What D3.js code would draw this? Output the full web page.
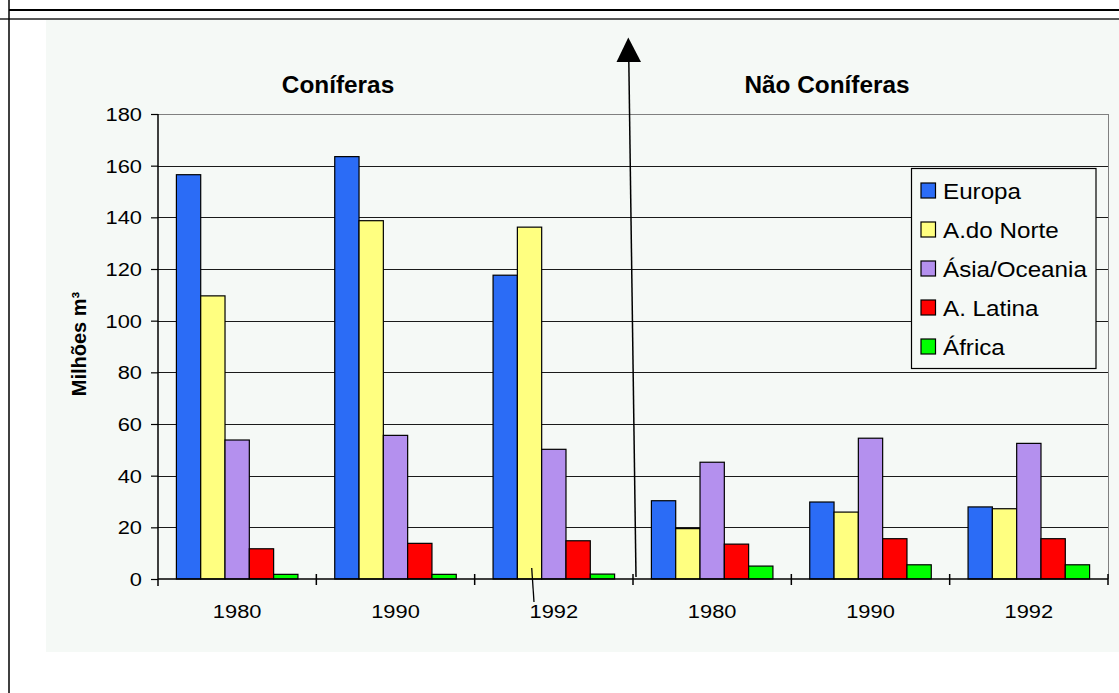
<!DOCTYPE html>
<html>
<head>
<meta charset="utf-8">
<script src="https://cdn.jsdelivr.net/npm/d3@7"></script>
<style>
  html, body { margin: 0; padding: 0; background: #ffffff; }
  svg { display: block; }
  text { font-family: "Liberation Sans", Arial, sans-serif; fill: #000; }
</style>
</head>
<body>
<svg id="chart" width="1119" height="693"></svg>
<script>
// ---- data ----
const categories = ["1980", "1990", "1992", "1980", "1990", "1992"];
const groupTitles = ["Coníferas", "Não Coníferas"];
const seriesNames = ["Europa", "A.do Norte", "Ásia/Oceania", "A. Latina", "África"];
const europa  = [156.5, 163.5, 117.6, 30.3, 29.8, 27.9];
const aNorte  = [109.6, 138.7, 136.2, 19.5, 25.9, 27.2];
const asia    = [53.8, 55.6, 50.2, 45.2, 54.5, 52.5];
const aLatina = [11.7, 13.8, 14.8, 13.5, 15.6, 15.6];
const africa  = [1.8, 1.8, 1.9, 5.0, 5.5, 5.5];
const yTicks  = [0, 20, 40, 60, 80, 100, 120, 140, 160, 180];
const yTitle  = "Milhões m³";

const seriesValues = [europa, aNorte, asia, aLatina, africa];
const colors = ["#2b6cf6", "#ffff80", "#b490ee", "#ff0000", "#00ff00"];

// ---- layout ----
const svg = d3.select("#chart");
const plot = { left: 158, right: 1108, top: 114, bottom: 579 };

// page frame
svg.append("rect").attr("x", 46).attr("y", 20).attr("width", 1119 - 46).attr("height", 632)
  .attr("fill", "#f5f9f6");
svg.append("line").attr("x1", 9).attr("x2", 1119).attr("y1", 10).attr("y2", 10)
  .attr("stroke", "#000").attr("stroke-width", 2);
svg.append("line").attr("x1", 0).attr("x2", 1119).attr("y1", 19).attr("y2", 19)
  .attr("stroke", "#222").attr("stroke-width", 1.5);
svg.append("line").attr("x1", 9).attr("x2", 9).attr("y1", 0).attr("y2", 693)
  .attr("stroke", "#000").attr("stroke-width", 1.5);

// scales
const idx = categories.map((d, i) => i);
const x0 = d3.scaleBand().domain(idx).range([plot.left, plot.right]).padding(0);
const x1 = d3.scaleBand().domain(d3.range(seriesNames.length))
  .range([0, x0.bandwidth()]).paddingInner(0).paddingOuter(0.757);
const y = d3.scaleLinear().domain([0, 180]).range([plot.bottom, plot.top]);

// grid lines
svg.append("g").selectAll("line").data(yTicks.filter(t => t > 0 && t < 180)).join("line")
  .attr("x1", plot.left).attr("x2", plot.right)
  .attr("y1", d => Math.round(y(d)) + 0.5).attr("y2", d => Math.round(y(d)) + 0.5)
  .attr("stroke", "#1a1a1a").attr("stroke-width", 1);
// plot area top/right border (grey)
svg.append("line").attr("x1", plot.left).attr("x2", plot.right)
  .attr("y1", Math.round(y(180)) + 0.5).attr("y2", Math.round(y(180)) + 0.5)
  .attr("stroke", "#808080").attr("stroke-width", 1);
svg.append("line").attr("x1", plot.right + 0.5).attr("x2", plot.right + 0.5)
  .attr("y1", y(180)).attr("y2", y(0))
  .attr("stroke", "#808080").attr("stroke-width", 1);

// bars
const gBars = svg.append("g");
idx.forEach(ci => {
  seriesValues.forEach((vals, si) => {
    gBars.append("rect")
      .attr("x", x0(ci) + x1(si))
      .attr("y", y(vals[ci]))
      .attr("width", x1.bandwidth())
      .attr("height", y(0) - y(vals[ci]))
      .attr("fill", colors[si])
      .attr("stroke", "#000").attr("stroke-width", 1.2);
  });
});

// y axis
const yAxis = d3.axisLeft(y).tickValues(yTicks).tickSize(7).tickPadding(0);
const gy = svg.append("g").attr("transform", `translate(${plot.left},0)`).call(yAxis);
gy.select(".domain").attr("stroke", "#000").attr("stroke-width", 1.5)
  .attr("d", `M0,${y(180)}V${y(0) + 7}`);
gy.selectAll(".tick line").attr("stroke", "#000").attr("stroke-width", 1.2);
gy.selectAll(".tick text")
  .attr("x", 0).attr("dy", "0.35em")
  .attr("font-size", 19)
  .attr("font-family", "Liberation Sans, Arial, sans-serif")
  .attr("transform", "translate(-16,0) scale(1.15,1)");

// x axis line
svg.append("line").attr("x1", plot.left).attr("x2", plot.right)
  .attr("y1", y(0)).attr("y2", y(0)).attr("stroke", "#000").attr("stroke-width", 1.5);
// x crossing ticks at category boundaries
const bounds = idx.map(i => x0(i)).concat([x0.range()[1]]);
svg.append("g").selectAll("line").data(bounds.slice(1)).join("line")
  .attr("x1", d => d).attr("x2", d => d)
  .attr("y1", y(0) - 5).attr("y2", y(0) + 6)
  .attr("stroke", "#000").attr("stroke-width", 1.5);
// x labels
svg.append("g").selectAll("text").data(idx).join("text")
  .attr("transform", i => `translate(${x0(i) + x0.bandwidth() / 2},618) scale(1.15,1)`)
  .attr("text-anchor", "middle").attr("font-size", 19)
  .text(i => categories[i]);

// y axis title
svg.append("text").attr("transform", "translate(86,344) rotate(-90)")
  .attr("text-anchor", "middle").attr("font-size", 20).attr("font-weight", "bold")
  .text(yTitle);

// group titles
const titleX = [338, 827];
groupTitles.forEach((t, i) => {
  svg.append("text").attr("transform", `translate(${titleX[i]},93) scale(1.06,1)`)
    .attr("text-anchor", "middle").attr("font-size", 23).attr("font-weight", "bold")
    .text(t);
});

// legend
const lg = svg.append("g");
lg.append("rect").attr("x", 911.5).attr("y", 168.5).attr("width", 184.5).attr("height", 200)
  .attr("fill", "#f5f9f6").attr("stroke", "#000").attr("stroke-width", 1.2);
const legendY = d3.scalePoint().domain(seriesNames).range([190.5, 346.5]);
seriesNames.forEach((name, si) => {
  lg.append("rect").attr("x", 921).attr("y", legendY(name) - 7.5).attr("width", 14.5).attr("height", 15)
    .attr("fill", colors[si]).attr("stroke", "#000").attr("stroke-width", 1.2);
  lg.append("text").attr("transform", `translate(943,${legendY(name) + 8}) scale(1.1,1)`)
    .attr("font-size", 22).text(name);
});

// annotation arrow and small line
svg.append("line").attr("x1", 636).attr("y1", 577).attr("x2", 628.8).attr("y2", 60)
  .attr("stroke", "#000").attr("stroke-width", 1.5);
svg.append("path").attr("d", "M628.3,37.5 L641,62 L616.5,62 Z").attr("fill", "#000");
svg.append("line").attr("x1", 531.7).attr("y1", 568).attr("x2", 534).attr("y2", 602)
  .attr("stroke", "#000").attr("stroke-width", 1.3);
</script>
</body>
</html>
